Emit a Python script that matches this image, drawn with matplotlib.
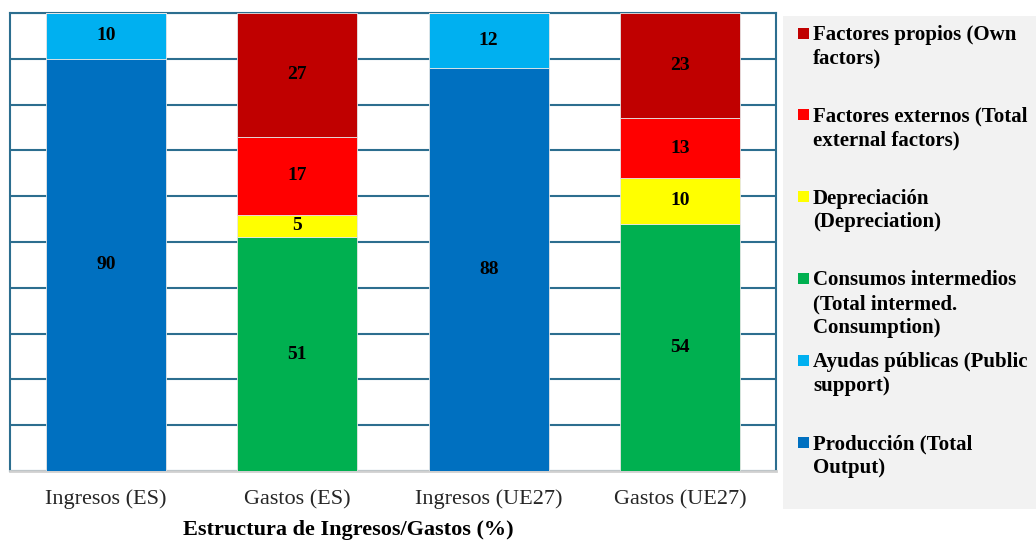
import matplotlib.pyplot as plt
from matplotlib.patches import Rectangle

plt.rcParams['font.family'] = ['Liberation Serif', 'DejaVu Serif']

categories = ["Ingresos (ES)", "Gastos (ES)", "Ingresos (UE27)", "Gastos (UE27)"]

# stacked from bottom to top
produccion = [90, 0, 88, 0]
ayudas = [10, 0, 12, 0]
consumos = [0, 51, 0, 54]
depreciacion = [0, 5, 0, 10]
externos = [0, 17, 0, 13]
propios = [0, 27, 0, 23]

series = [
    ("Producción (Total\nOutput)", produccion, "#0070C0"),
    ("Ayudas públicas (Public\nsupport)", ayudas, "#00B0F0"),
    ("Consumos intermedios\n(Total intermed.\nConsumption)", consumos, "#00B050"),
    ("Depreciación\n(Depreciation)", depreciacion, "#FFFF00"),
    ("Factores externos (Total\nexternal factors)", externos, "#FF0000"),
    ("Factores propios (Own\nfactors)", propios, "#C00000"),
]

grid_col = "#2C6E8F"

fig = plt.figure(figsize=(10.36, 5.43), dpi=100)
ax = fig.add_axes([0.0097, 0.1326, 0.7393, 0.8434])

x = list(range(len(categories)))
bottoms = [0] * len(categories)
for name, vals, col in series:
    ax.bar(x, vals, bottom=bottoms, width=0.627, color=col,
           edgecolor="#e6e6e6", linewidth=0.6, zorder=3)
    for i, v in enumerate(vals):
        if v > 0:
            ax.text(i, bottoms[i] + v / 2, str(v), ha="center", va="center",
                    fontsize=14, fontweight="bold", color="black", zorder=4)
    bottoms = [b + v for b, v in zip(bottoms, vals)]

ax.set_xlim(-0.5, 3.5)
ax.set_ylim(0, 100)
ax.set_yticks(range(0, 101, 10))
ax.yaxis.grid(True, color=grid_col, linewidth=1.5, zorder=1)
ax.tick_params(axis="y", left=False, labelleft=False)
ax.tick_params(axis="x", bottom=False, labelsize=16, pad=10, colors="#262626")
ax.set_xticks(x)
ax.set_xticklabels(categories)
ax.set_xlabel("Estructura de Ingresos/Gastos (%)", fontsize=16,
              fontweight="bold", va="center")
ax.xaxis.set_label_coords(0.441, -0.129)

for side in ["left", "top", "right"]:
    ax.spines[side].set_color(grid_col)
    ax.spines[side].set_linewidth(1.5)
ax.spines["bottom"].set_color("#d0d0d0")
ax.spines["bottom"].set_linewidth(2)

# legend panel on the right
W, H = 1036, 543
fig.patches.append(Rectangle((783 / W, 1 - 509 / H), 253 / W, 493 / H,
                             transform=fig.transFigure, facecolor="#f2f2f2",
                             edgecolor="none", zorder=0))
y0 = 33
step = 81.8
for k, (name, vals, col) in enumerate(reversed(series)):
    yc = y0 + k * step
    fig.patches.append(Rectangle((798 / W, 1 - (yc + 5.5) / H), 11 / W, 11 / H,
                                 transform=fig.transFigure, facecolor=col,
                                 edgecolor="none", zorder=1))
    fig.text(813 / W, 1 - (yc - 8) / H, name, ha="left", va="top",
             fontsize=15, fontweight="bold", color="black",
             linespacing=1.25)

fig.savefig("out.png", dpi=100)
